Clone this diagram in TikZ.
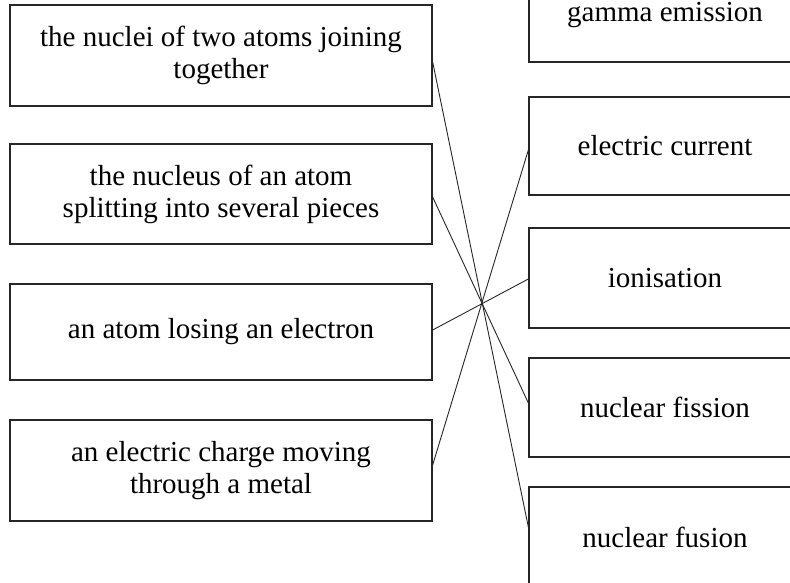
\documentclass[tikz,border=0pt]{standalone}
\usepackage{fontspec}
\setmainfont{Liberation Serif}
\usetikzlibrary{calc}
\begin{document}
\begin{tikzpicture}[x=1pt,y=-1pt,
  box/.style={draw=black!85, line width=1.3pt, rectangle, inner sep=0pt, align=center,
    font=\fontsize{29}{32}\selectfont},
  lbox/.style={box, minimum width=422pt},
  rbox/.style={box, minimum width=272pt, minimum height=99pt},
  link/.style={draw=black!85, line width=0.9pt}]
\useasboundingbox (0,0) rectangle (790,583);
\clip (0,0) rectangle (790,583);
% left boxes
\node[lbox, minimum height=101pt] (l1) at (221,55.5) {the nuclei of two atoms joining\\together};
\node[lbox, minimum height=100pt] (l2) at (221,194) {the nucleus of an atom\\splitting into several pieces};
\node[lbox, minimum height=96pt] (l3) at (221,332) {an atom losing an electron};
\node[lbox, minimum height=101pt] (l4) at (221,470.5) {an electric charge moving\\through a metal};
% right boxes
\node[rbox, minimum height=94pt] (r1) at (665,15) {gamma emission};
\node[rbox, minimum height=98pt] (r2) at (665,146) {electric current};
\node[rbox, minimum height=100pt] (r3) at (665,278) {ionisation};
\node[rbox, minimum height=99pt] (r4) at (665,407.5) {nuclear fission};
\node[rbox, minimum height=100pt] (r5) at (665,537) {nuclear fusion};
% connectors
\draw[link] ($(l1.east)+(0,6.5)$) -- ($(r5.west)+(0,-10)$);
\draw[link] ($(l2.east)+(0,3)$) -- ($(r4.west)+(0,-4.5)$);
\draw[link] ($(l3.east)+(0,-2)$) -- ($(r3.west)+(0,1)$);
\draw[link] ($(l4.east)+(0,-5.5)$) -- ($(r2.west)+(0,4)$);
\end{tikzpicture}
\end{document}
